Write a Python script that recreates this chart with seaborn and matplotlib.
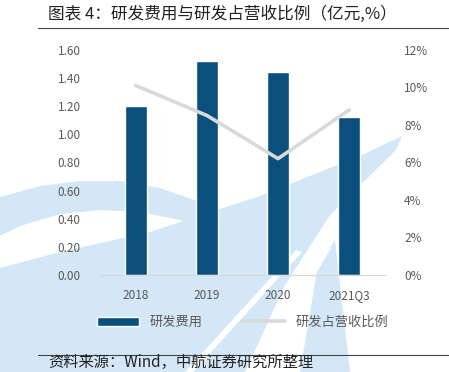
import seaborn as sns
import matplotlib.pyplot as plt
from matplotlib.patches import Polygon
import pandas as pd

years = ["2018", "2019", "2020", "2021Q3"]
rd_cost = [1.20, 1.52, 1.44, 1.12]        # 亿元
rd_ratio = [10.1, 8.5, 6.2, 8.8]          # %

df = pd.DataFrame({"year": years, "cost": rd_cost, "ratio": rd_ratio})

sns.set_style("white")
plt.rcParams['font.family'] = ['Noto Sans CJK SC', 'DejaVu Sans']

W, H = 449, 372
fig = plt.figure(figsize=(4.49, 3.72), dpi=100)


def px(points):
    # pixel coords -> figure fraction
    return [(x / W, 1 - y / H) for x, y in points]


# faint watermark logo in the background
wm = "#d3e7f6"
logo = [
    # wing
    ([(0, 372), (0, 268), (60, 252), (150, 232), (260, 196), (360, 156), (402, 136),
      (396, 150), (330, 215), (285, 285), (245, 372)], wm),
    # arc band
    ([(0, 197), (40, 186), (80, 181), (120, 181), (160, 188), (200, 202), (240, 225),
      (262, 245), (250, 250), (215, 232), (180, 220), (140, 212), (100, 210),
      (60, 214), (20, 226), (0, 236)], wm),
    # tail beam
    ([(300, 372), (318, 265), (335, 240), (350, 372)], wm),
    # white gaps
    ([(185, 372), (296, 250), (302, 252), (193, 372)], "white"),
    ([(250, 372), (326, 245), (331, 248), (258, 372)], "white"),
]
for pts, c in logo:
    fig.add_artist(Polygon(px(pts), closed=True, facecolor=c, edgecolor="none",
                           transform=fig.transFigure, zorder=-1))

ax = fig.add_axes([0.223, 0.261, 0.634, 0.605])
ax.set_facecolor("none")

sns.barplot(x="year", y="cost", data=df, color="#0b4f7c", width=0.31,
            saturation=1, ax=ax, label="研发费用")
ax.set_ylim(0, 1.6)
ax.set_yticks([0, 0.2, 0.4, 0.6, 0.8, 1.0, 1.2, 1.4, 1.6])
ax.set_yticklabels([f"{v:.2f}" for v in ax.get_yticks()])
ax.set_xlabel("")
ax.set_ylabel("")

ax2 = ax.twinx()
ax2.set_facecolor("none")
sns.lineplot(x=range(len(years)), y=rd_ratio, color="#d9d9d9", linewidth=2.6,
             ax=ax2, label="研发占营收比例")
ax2.set_ylim(0, 12)
ax2.set_yticks(range(0, 13, 2))
ax2.set_yticklabels([f"{v}%" for v in range(0, 13, 2)])

for a in (ax, ax2):
    for s in ("top", "left", "right"):
        a.spines[s].set_visible(False)
    a.spines["bottom"].set_color("#d9d9d9")
    a.tick_params(length=0, labelsize=8.5, labelcolor="#595959", pad=14)
ax.tick_params(axis="x", pad=10)
ax.set_xlim(-0.5, 3.5)

ax2.get_legend().remove()
h1, l1 = ax.get_legend_handles_labels()
h2, l2 = ax2.get_legend_handles_labels()
ax.legend(h1 + h2, l1 + l2, loc="upper center", bbox_to_anchor=(0.5, -0.13),
          ncol=2, frameon=False, fontsize=9.5, labelcolor="#595959",
          handlelength=3.2, columnspacing=3)

fig.text(48 / W, 1 - 14 / H, "图表 4：研发费用与研发占营收比例（亿元,%）",
         fontsize=12, color="#222222", va="center")
fig.add_artist(plt.Line2D([38 / W, 1.0], [1 - 28 / H] * 2, color="#444444", linewidth=0.8))
fig.add_artist(plt.Line2D([38 / W, 1.0], [1 - 355 / H] * 2, color="#444444", linewidth=0.8))
fig.text(48 / W, 1 / H, "资料来源：Wind，中航证券研究所整理",
         fontsize=11, color="#222222", va="bottom")

fig.savefig("out.png", dpi=100)
